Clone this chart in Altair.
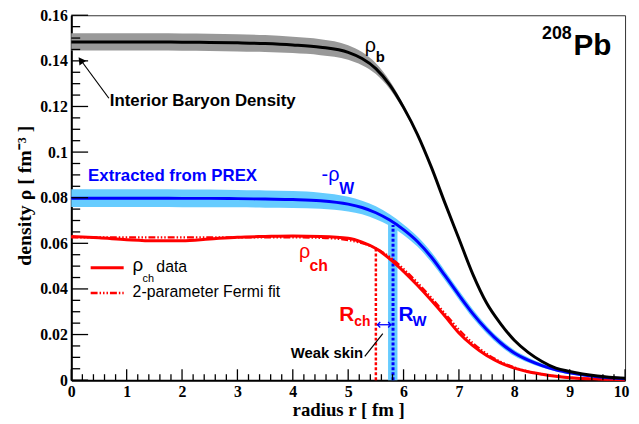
import altair as alt
import pandas as pd

# ---------------- data ----------------
r = [0, 0.5, 1.0, 1.5, 2.0, 2.5, 3.0, 3.5, 4.0, 4.5, 5.0, 5.25, 5.5, 5.75, 6.0,
     6.25, 6.5, 6.75, 7.0, 7.25, 7.5, 7.75, 8.0, 8.25, 8.5, 8.75, 9.0, 9.5, 10.0]

rho_b = [0.1483, 0.1483, 0.1483, 0.1483, 0.1482, 0.1481, 0.1479, 0.1476, 0.1470,
         0.1460, 0.1437, 0.1410, 0.1366, 0.1295, 0.1196, 0.1078, 0.0935, 0.0775,
         0.0620, 0.0465, 0.0338, 0.0248, 0.0175, 0.0122, 0.0082, 0.0053, 0.0038,
         0.0018, 0.0008]
rho_b_err = [0.0038, 0.0038, 0.0038, 0.0038, 0.0038, 0.0038, 0.0038, 0.0037, 0.0036,
             0.0035, 0.0032, 0.0029, 0.0024, 0.0018, 0.0012, 0.0007, 0.0004, 0.0002,
             0.0001, 0.0001, 0.0001, 0.0001, 0.0, 0.0, 0.0, 0.0, 0.0, 0.0, 0.0]

rho_w = [0.0798, 0.0798, 0.0798, 0.0798, 0.0797, 0.0797, 0.0796, 0.0794, 0.0792,
         0.0787, 0.0772, 0.0757, 0.0734, 0.0702, 0.0660, 0.0608, 0.0540, 0.0458,
         0.0373, 0.0292, 0.0222, 0.0164, 0.0119, 0.0088, 0.0064, 0.0045, 0.0032,
         0.0015, 0.0006]
rho_w_err = [0.0039, 0.0039, 0.0039, 0.0039, 0.0039, 0.0039, 0.0038, 0.0038, 0.0037,
             0.0035, 0.0032, 0.0030, 0.0028, 0.0025, 0.0023, 0.0022, 0.0022, 0.0021,
             0.0020, 0.0019, 0.0017, 0.0015, 0.0013, 0.0011, 0.0009, 0.0007, 0.0006,
             0.0004, 0.0002]

rho_ch = [0.0630, 0.0624, 0.0616, 0.0611, 0.0611, 0.0619, 0.0627, 0.0630, 0.0632,
          0.0630, 0.0622, 0.0605, 0.0577, 0.0532, 0.0477, 0.0416, 0.0350, 0.0280,
          0.0207, 0.0151, 0.0108, 0.0076, 0.0053, 0.0037, 0.0026, 0.0017, 0.0011,
          0.0005, 0.0002]
rho_fit = [0.0626, 0.0626, 0.0626, 0.0626, 0.0626, 0.0626, 0.0626, 0.0626, 0.0626,
           0.0624, 0.0614, 0.0600, 0.0578, 0.0540, 0.0488, 0.0428, 0.0362, 0.0292,
           0.0222, 0.0163, 0.0116, 0.0081, 0.0056, 0.0038, 0.0026, 0.0017, 0.0011,
           0.0005, 0.0002]

R_ch = 5.50          # charge radius marker
R_w = 5.81           # weak radius marker
R_w_band = [5.72, 5.89]
R_ch_top = 0.0577
R_w_top = 0.069
skin_arrow_level = 0.0243

x_major = [0, 1, 2, 3, 4, 5, 6, 7, 8, 9, 10]
x_minor = [round(0.2 * i, 1) for i in range(51) if i % 5 != 0]
y_major = [0, 0.02, 0.04, 0.06, 0.08, 0.10, 0.12, 0.14, 0.16]
y_minor = [round(0.005 * i, 3) for i in range(33) if i % 4 != 0]

SANS = "Liberation Sans"
SERIF = "Liberation Serif"
RED = "#ff0000"
BLUE = "#0000ff"
LBLUE = "#66ccff"
GRAY = "#999999"

# ---------------- build ----------------
df = pd.DataFrame({"r": r, "b": rho_b, "w": rho_w, "ch": rho_ch, "fit": rho_fit})
df["b_lo"] = [a - e for a, e in zip(rho_b, rho_b_err)]
df["b_hi"] = [a + e for a, e in zip(rho_b, rho_b_err)]
df["w_lo"] = [a - e for a, e in zip(rho_w, rho_w_err)]
df["w_hi"] = [a + e for a, e in zip(rho_w, rho_w_err)]

xs = alt.Scale(domain=[0, 10], nice=False, zero=False)
ys = alt.Scale(domain=[0, 0.16], nice=False, zero=False)

xaxis = alt.Axis(values=x_major, format="d", ticks=False, grid=False,
                 labelFont=SERIF, labelFontWeight="bold", labelFontSize=16,
                 labelColor="black", labelPadding=4, labelFlush=False,
                 labelOffset={"condition": {"test": "datum.value == 10", "value": -4}, "value": 0},
                 labelOverlap=False, domainColor="black", domainWidth=2,
                 title="radius r [ fm ]", titleFont=SERIF, titleFontWeight="bold",
                 titleFontSize=19, titleColor="black", titleX=280, titleY=30,
                 titleBaseline="middle", titleAlign="center")
yaxis = alt.Axis(values=y_major, format=".2~f", ticks=False, grid=False,
                 labelFont=SERIF, labelFontWeight="bold", labelFontSize=16,
                 labelColor="black", labelPadding=4, labelFlush=False,
                 labelOverlap=False, domainColor="black", domainWidth=2,
                 title="density  ρ [ fm⁻³ ]", titleFont=SERIF, titleFontWeight="bold",
                 titleFontSize=20, titleColor="black", titleX=-47, titleY=182,
                 titleAngle=270, titleBaseline="middle", titleAlign="center")


def X(f="r:Q"):
    return alt.X(f, scale=xs, axis=xaxis)


def Y(f):
    return alt.Y(f, scale=ys, axis=yaxis)


base = alt.Chart(df)

gray_band = base.mark_area(color=GRAY, opacity=1, interpolate="monotone").encode(
    x=X(), y=Y("b_lo:Q"), y2="b_hi:Q")
blue_band = base.mark_area(color=LBLUE, opacity=1, interpolate="monotone").encode(
    x=X(), y=Y("w_lo:Q"), y2="w_hi:Q")

vband = alt.Chart(pd.DataFrame({"x1": [R_w_band[0]], "x2": [R_w_band[1]],
                                "y1": [0.0], "y2": [R_w_top]})).mark_rect(
    color=LBLUE, opacity=1).encode(x=X("x1:Q"), x2="x2:Q", y=Y("y1:Q"), y2="y2:Q")

red_vline = alt.Chart(pd.DataFrame({"x": [R_ch], "y1": [0.0], "y2": [R_ch_top]})).mark_rule(
    color=RED, strokeWidth=2.5, strokeDash=[3, 2]).encode(x=X("x:Q"), y=Y("y1:Q"), y2="y2:Q")
blue_vline = alt.Chart(pd.DataFrame({"x": [R_w], "y1": [0.0], "y2": [R_w_top - 0.001]})).mark_rule(
    color=BLUE, strokeWidth=3, strokeDash=[3, 2]).encode(x=X("x:Q"), y=Y("y1:Q"), y2="y2:Q")

fit_line = base.mark_line(color=RED, strokeWidth=2.2, interpolate="monotone",
                          strokeDash=[7, 2, 1.5, 2, 1.5, 2, 1.5, 2]).encode(x=X(), y=Y("fit:Q"))
red_line = base.mark_line(color=RED, strokeWidth=3, interpolate="monotone").encode(
    x=X(), y=Y("ch:Q"))
blue_line = base.mark_line(color=BLUE, strokeWidth=3, interpolate="monotone").encode(
    x=X(), y=Y("w:Q"))
black_line = base.mark_line(color="black", strokeWidth=3, interpolate="monotone").encode(
    x=X(), y=Y("b:Q"))


def text_layer(x, y, t, size, color="black", weight="bold", align="left", font=SANS):
    return alt.Chart(pd.DataFrame({"x": [x], "y": [y], "t": [t]})).mark_text(
        align=align, baseline="alphabetic", fontSize=size, fontWeight=weight,
        color=color, font=font).encode(x=X("x:Q"), y=Y("y:Q"), text="t:N")


texts = [
    text_layer(0.696, 0.1201, "Interior Baryon Density", 17),
    text_layer(0.304, 0.0873, "Extracted from PREX", 17, BLUE),
    text_layer(5.30, 0.1441, "ρ", 20, weight="normal"),
    text_layer(5.50, 0.1396, "b", 15),
    text_layer(9.036, 0.1496, "208", 18, align="right"),
    text_layer(9.07, 0.1427, "Pb", 30),
    text_layer(4.52, 0.0874, "-ρ", 20, BLUE, weight="normal"),
    text_layer(4.84, 0.0818, "W", 16, BLUE),
    text_layer(4.11, 0.0536, "ρ", 20, RED, weight="normal"),
    text_layer(4.30, 0.0477, "ch", 16, RED),
    text_layer(4.84, 0.0260, "R", 21, RED),
    text_layer(5.11, 0.0238, "ch", 14, RED),
    text_layer(5.91, 0.0260, "R", 21, BLUE),
    text_layer(6.16, 0.0238, "W", 15, BLUE),
    text_layer(5.27, 0.0095, "Weak skin", 15, align="right"),
    text_layer(1.107, 0.0477, "ρ", 19, weight="normal"),
    text_layer(1.286, 0.0429, "ch", 11, weight="normal"),
    text_layer(1.536, 0.0473, "data", 16, weight="normal"),
    text_layer(1.107, 0.0364, "2-parameter Fermi fit", 16, weight="normal"),
]

# arrow to interior density
arrow_line = alt.Chart(pd.DataFrame({"x": [0.679], "y": [0.1236], "x2": [0.20], "y2": [0.1394]})).mark_rule(
    color="black", strokeWidth=1.2).encode(x=X("x:Q"), y=Y("y:Q"), x2="x2:Q", y2="y2:Q")
arrow_head = alt.Chart(pd.DataFrame({"x": [0.17], "y": [0.1403]})).mark_point(
    shape="triangle-up", filled=True, color="black", opacity=1, size=70, angle=324).encode(
    x=X("x:Q"), y=Y("y:Q"))

# weak skin pointer and double arrow
skin_line = alt.Chart(pd.DataFrame({"x": [5.30], "y": [0.0104], "x2": [5.625], "y2": [0.0204]})).mark_rule(
    color="black", strokeWidth=1.2).encode(x=X("x:Q"), y=Y("y:Q"), x2="x2:Q", y2="y2:Q")
skin_arrow = alt.Chart(pd.DataFrame({"x": [R_ch + 0.02], "x2": [R_w - 0.03],
                                     "y": [skin_arrow_level]})).mark_rule(
    color=BLUE, strokeWidth=1.3).encode(x=X("x:Q"), x2="x2:Q", y=Y("y:Q"))
skin_l = alt.Chart(pd.DataFrame({"x": [R_ch + 0.03], "y": [skin_arrow_level]})).mark_point(
    shape="M1,-1L0,0L1,1", filled=False, color=BLUE, strokeWidth=1.3, size=30, opacity=1).encode(
    x=X("x:Q"), y=Y("y:Q"))
skin_r = alt.Chart(pd.DataFrame({"x": [R_w - 0.04], "y": [skin_arrow_level]})).mark_point(
    shape="M-1,-1L0,0L-1,1", filled=False, color=BLUE, strokeWidth=1.3, size=30, opacity=1).encode(
    x=X("x:Q"), y=Y("y:Q"))

# legend lines
leg_solid = alt.Chart(pd.DataFrame({"x": [0.35], "x2": [0.946], "y": [0.0493]})).mark_rule(
    color=RED, strokeWidth=3).encode(x=X("x:Q"), x2="x2:Q", y=Y("y:Q"))
leg_dash = alt.Chart(pd.DataFrame({"x": [0.35], "x2": [0.946], "y": [0.0382]})).mark_rule(
    color=RED, strokeWidth=2.5, strokeDash=[7, 2, 1.5, 2, 1.5, 2, 1.5, 2]).encode(
    x=X("x:Q"), x2="x2:Q", y=Y("y:Q"))


# inward ticks (ROOT style)
def yticks(vals, length):
    return alt.Chart(pd.DataFrame({"v": vals})).mark_rule(color="black", strokeWidth=1.3).encode(
        y=Y("v:Q"), x=alt.value(0), x2=alt.value(length))


def xticks(vals, length):
    return alt.Chart(pd.DataFrame({"v": vals})).mark_rule(color="black", strokeWidth=1.3).encode(
        x=X("v:Q"), y=alt.value(369), y2=alt.value(369 - length))


layers = [gray_band, blue_band, vband, red_vline, blue_vline, fit_line, red_line,
          blue_line, black_line, arrow_line, arrow_head, skin_line, skin_arrow,
          skin_l, skin_r, leg_solid, leg_dash] + texts + [
          yticks(y_major, 17), yticks(y_minor, 9), xticks(x_major, 11), xticks(x_minor, 6)]

chart = alt.layer(*layers).properties(
    width=560, height=369,
    padding={"left": 64, "top": 5, "right": 6, "bottom": 42},
    autosize=alt.AutoSizeParams(type="none"),
    background="white",
).configure_view(stroke="#333333", strokeWidth=1)

chart.save("out.html", embed_options={"renderer": "svg", "actions": False})
